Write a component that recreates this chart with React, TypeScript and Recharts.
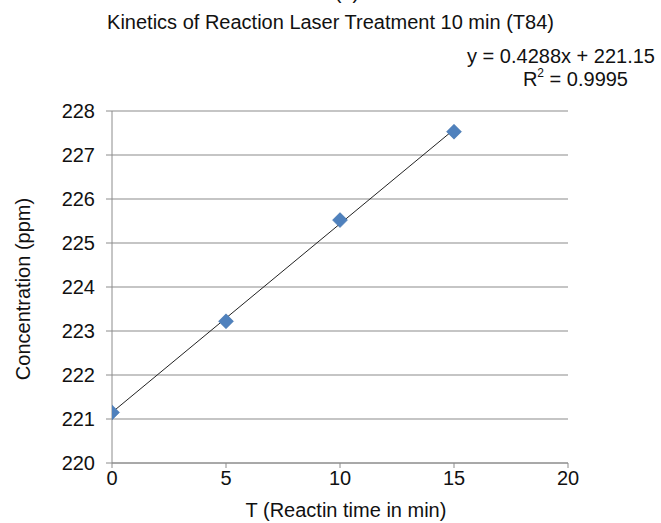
import { ComposedChart, Scatter, Line, XAxis, YAxis, CartesianGrid } from 'recharts'

const times = [0, 5, 10, 15]
const concentrations = [221.15, 223.22, 225.52, 227.53]
const trendTimes = [0, 15]
const trendValues = [221.15, 227.58]
const xTicks = [0, 5, 10, 15, 20]
const yTicks = [220, 221, 222, 223, 224, 225, 226, 227, 228]

const points = times.map((t, i) => ({ x: t, y: concentrations[i] }))
const trend = trendTimes.map((t, i) => ({ x: t, y: trendValues[i] }))

const font = '"Liberation Sans", Arial, sans-serif'

const Diamond = (props: any) => {
  const { cx, cy } = props
  const r = 7.5
  return (
    <polygon
      points={`${cx},${cy - r} ${cx + r},${cy} ${cx},${cy + r} ${cx - r},${cy}`}
      fill="#4F81BD"
      stroke="#3f6fa8"
      strokeWidth={0.5}
    />
  )
}

export default function App() {
  const textStyle = { position: 'absolute' as const, fontFamily: font, color: '#111', whiteSpace: 'nowrap' as const }
  return (
    <div style={{ position: 'absolute', left: 0, top: 0, width: 661, height: 523, background: '#fff', overflow: 'hidden' }}>
      <div style={{ ...textStyle, left: 0, width: 694, top: -19, textAlign: 'center', fontSize: 20 }}>(b)</div>
      <div style={{ ...textStyle, left: 0, width: 661, top: 11, textAlign: 'center', fontSize: 20 }}>
        Kinetics of Reaction Laser Treatment 10 min (T84)
      </div>
      <div style={{ ...textStyle, right: 6, top: 45, fontSize: 20 }}>y = 0.4288x + 221.15</div>
      <div style={{ ...textStyle, right: 33, top: 68, fontSize: 20 }}>
        R<sup style={{ fontSize: 12, verticalAlign: 'top', position: 'relative', top: -2 }}>2</sup> = 0.9995
      </div>
      <div
        style={{
          ...textStyle,
          left: 23,
          top: 289,
          fontSize: 20,
          transform: 'translate(-50%, -50%) rotate(-90deg)',
        }}
      >
        Concentration (ppm)
      </div>
      <div style={{ ...textStyle, left: 0, width: 692, top: 499, textAlign: 'center', fontSize: 20 }}>
        T (Reactin time in min)
      </div>
      <ComposedChart
        width={661}
        height={523}
        margin={{ top: 111, right: 93, bottom: 30, left: 62 }}
        style={{ position: 'absolute', left: 0, top: 0 }}
      >
        <CartesianGrid vertical={false} stroke="#8c8c8c" strokeWidth={1.2} />
        <XAxis
          dataKey="x"
          type="number"
          domain={[0, 20]}
          ticks={xTicks}
          height={30}
          stroke="#8c8c8c"
          tickSize={5}
          tickMargin={3}
          tick={{ fill: '#111', fontSize: 20, fontFamily: font }}
          allowDataOverflow
        />
        <YAxis
          dataKey="y"
          type="number"
          domain={[220, 228]}
          ticks={yTicks}
          width={50}
          stroke="#8c8c8c"
          tickSize={6}
          tickMargin={11}
          tick={{ fill: '#111', fontSize: 20, fontFamily: font }}
          allowDataOverflow
        />
        <Line
          data={trend}
          dataKey="y"
          stroke="#222"
          strokeWidth={1}
          dot={false}
          isAnimationActive={false}
        />
        <Scatter data={points} dataKey="y" shape={Diamond} isAnimationActive={false} />
      </ComposedChart>
    </div>
  )
}
